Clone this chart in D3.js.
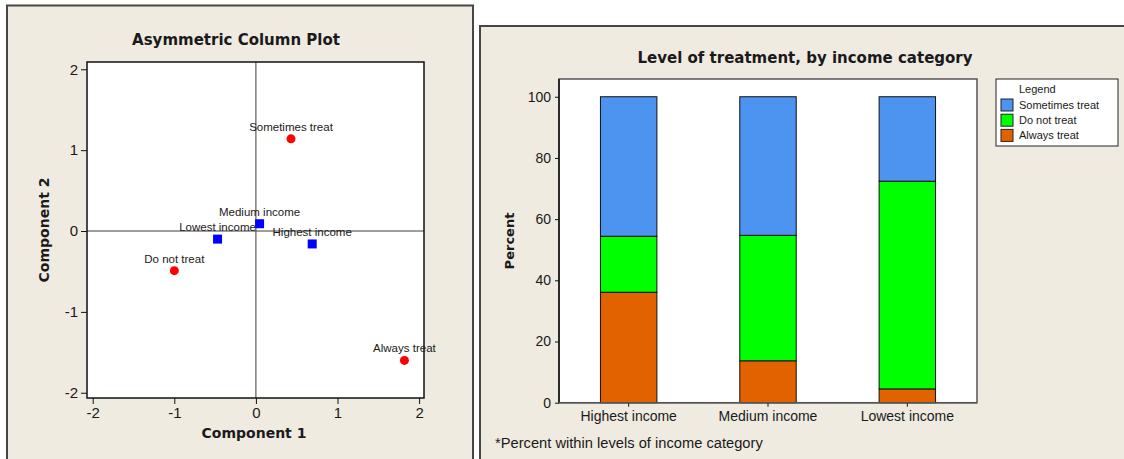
<!DOCTYPE html>
<html>
<head>
<meta charset="utf-8">
<script src="https://cdn.jsdelivr.net/npm/d3@7"></script>
<style>
  html, body { margin: 0; padding: 0; background: #ffffff; }
  svg { display: block; }
  text { fill: #1a1a1a; }
</style>
</head>
<body>
<svg id="chart" width="1124" height="459"></svg>
<script>
// ---- Correspondence analysis: column (income) and row (treatment) coordinates ----
const rowNames = ["Sometimes treat", "Do not treat", "Always treat"];
const rowComp1 = [0.43, -1.00, 1.82];
const rowComp2 = [1.14, -0.49, -1.60];

const colNames = ["Medium income", "Lowest income", "Highest income"];
const colComp1 = [0.045, -0.47, 0.69];
const colComp2 = [0.09, -0.10, -0.16];

const scatterTicks = [-2, -1, 0, 1, 2];

// ---- Stacked percentages by income category ----
const incomeCategories = ["Highest income", "Medium income", "Lowest income"];
const alwaysTreat    = [36.1, 13.7, 4.5];
const doNotTreat     = [18.3, 41.0, 67.9];
const sometimesTreat = [45.6, 45.3, 27.6];
const seriesNames = ["Always treat", "Do not treat", "Sometimes treat"];
const percentTicks = [0, 20, 40, 60, 80, 100];

const BG = "#efebe1";
const svg = d3.select("#chart");
const FONT = "Liberation Sans, Arial, sans-serif";
const BOLD = "DejaVu Sans, Verdana, sans-serif";

// ================= Left panel: scatter =================
svg.append("rect").attr("x", 7).attr("y", 5.5).attr("width", 466).attr("height", 470)
  .attr("fill", BG).attr("stroke", "#464646").attr("stroke-width", 2);

const L = { left: 87, right: 424, top: 62, bottom: 398 };
const x1 = d3.scaleLinear().domain([-2.07, 2.06]).range([L.left, L.right]);
const y1 = d3.scaleLinear().domain([-2.065, 2.09]).range([L.bottom, L.top]);

const gL = svg.append("g");
gL.append("rect").attr("x", L.left).attr("y", L.top)
  .attr("width", L.right - L.left).attr("height", L.bottom - L.top)
  .attr("fill", "#ffffff");

// reference lines through the origin
gL.append("line").attr("x1", x1(0)).attr("x2", x1(0)).attr("y1", L.top).attr("y2", L.bottom)
  .attr("stroke", "#3c3c3c").attr("stroke-width", 1);
gL.append("line").attr("x1", L.left).attr("x2", L.right).attr("y1", y1(0)).attr("y2", y1(0))
  .attr("stroke", "#3c3c3c").attr("stroke-width", 1);

gL.append("rect").attr("x", L.left).attr("y", L.top)
  .attr("width", L.right - L.left).attr("height", L.bottom - L.top)
  .attr("fill", "none").attr("stroke", "#111").attr("stroke-width", 1.5);

const xAxis1 = gL.append("g").attr("transform", `translate(0,${L.bottom})`)
  .call(d3.axisBottom(x1).tickValues(scatterTicks).tickSize(6).tickPadding(3).tickFormat(d3.format("d")));
const yAxis1 = gL.append("g").attr("transform", `translate(${L.left},0)`)
  .call(d3.axisLeft(y1).tickValues(scatterTicks).tickSize(6).tickPadding(3).tickFormat(d3.format("d")));
[xAxis1, yAxis1].forEach(a => {
  a.select(".domain").remove();
  a.selectAll(".tick line").attr("stroke", "#111");
  a.selectAll(".tick text").attr("font-family", FONT).attr("font-size", 15).attr("fill", "#1a1a1a")
    .text(d => d < 0 ? "-" + Math.abs(d) : d);
});

// row points (red circles)
rowNames.forEach((name, i) => {
  gL.append("circle").attr("cx", x1(rowComp1[i])).attr("cy", y1(rowComp2[i])).attr("r", 4.5)
    .attr("fill", "#ff0000");
});
// column points (blue squares)
colNames.forEach((name, i) => {
  gL.append("rect").attr("x", x1(colComp1[i]) - 4.5).attr("y", y1(colComp2[i]) - 4.5)
    .attr("width", 9).attr("height", 9).attr("fill", "#0000ff");
});
// point labels
const labelNames = rowNames.concat(colNames);
const labelX = rowComp1.concat(colComp1);
const labelY = rowComp2.concat(colComp2);
labelNames.forEach((name, i) => {
  gL.append("text").attr("x", x1(labelX[i])).attr("y", y1(labelY[i]) - 8)
    .attr("text-anchor", "middle").attr("font-family", FONT).attr("font-size", 11.5)
    .attr("fill", "#222").text(name);
});

svg.append("text").attr("x", 236).attr("y", 44.5).attr("text-anchor", "middle")
  .attr("font-family", BOLD).attr("font-weight", "bold").attr("font-size", 15).text("Asymmetric Column Plot");
svg.append("text").attr("x", 254).attr("y", 438).attr("text-anchor", "middle")
  .attr("font-family", BOLD).attr("font-weight", "bold").attr("font-size", 14).text("Component 1");
svg.append("text").attr("transform", "translate(49,230) rotate(-90)").attr("text-anchor", "middle")
  .attr("font-family", BOLD).attr("font-weight", "bold").attr("font-size", 14).text("Component 2");

// ================= Right panel: stacked bars =================
svg.append("rect").attr("x", 480).attr("y", 26).attr("width", 660).attr("height", 450)
  .attr("fill", BG).attr("stroke", "#464646").attr("stroke-width", 2);

const R = { left: 559, right: 977, top: 79, bottom: 402.7 };
const x2 = d3.scaleBand().domain(incomeCategories).range([R.left, R.right]).padding(0);
const y2 = d3.scaleLinear().domain([0, 105.8]).range([R.bottom, R.top]);
const barW = x2.bandwidth() * 0.405;

const gR = svg.append("g");
gR.append("rect").attr("x", R.left).attr("y", R.top)
  .attr("width", R.right - R.left).attr("height", R.bottom - R.top)
  .attr("fill", "#ffffff").attr("stroke", "#555").attr("stroke-width", 1.5);

const table = incomeCategories.map((c, i) => ({
  category: c,
  "Always treat": alwaysTreat[i],
  "Do not treat": doNotTreat[i],
  "Sometimes treat": sometimesTreat[i]
}));
const stack = d3.stack().keys(seriesNames)(table);
const colour = d3.scaleOrdinal().domain(seriesNames).range(["#e36200", "#00ff00", "#4d94f0"]);

stack.forEach(layer => {
  gR.append("g").selectAll("rect").data(layer).join("rect")
    .attr("x", d => x2(d.data.category) + (x2.bandwidth() - barW) / 2)
    .attr("width", barW)
    .attr("y", d => y2(d[1]))
    .attr("height", d => y2(d[0]) - y2(d[1]))
    .attr("fill", colour(layer.key))
    .attr("stroke", "#111").attr("stroke-width", 1);
});

const yAxis2 = gR.append("g").attr("transform", `translate(${R.left},0)`)
  .call(d3.axisLeft(y2).tickValues(percentTicks).tickSize(4).tickPadding(4));
const xAxis2 = gR.append("g").attr("transform", `translate(0,${R.bottom})`)
  .call(d3.axisBottom(x2).tickSize(4).tickPadding(4));
[yAxis2, xAxis2].forEach(a => {
  a.select(".domain").remove();
  a.selectAll(".tick line").attr("stroke", "#111");
  a.selectAll(".tick text").attr("font-family", FONT).attr("font-size", 14).attr("fill", "#1a1a1a");
});
gR.append("line").attr("x1", R.left).attr("x2", R.left).attr("y1", R.top).attr("y2", R.bottom)
  .attr("stroke", "#111").attr("stroke-width", 1.5);
gR.append("line").attr("x1", R.left).attr("x2", R.right).attr("y1", R.bottom).attr("y2", R.bottom)
  .attr("stroke", "#555").attr("stroke-width", 1.5);

svg.append("text").attr("x", 805).attr("y", 62.5).attr("text-anchor", "middle")
  .attr("font-family", BOLD).attr("font-weight", "bold").attr("font-size", 15)
  .text("Level of treatment, by income category");
svg.append("text").attr("transform", "translate(514,241) rotate(-90)").attr("text-anchor", "middle")
  .attr("font-family", BOLD).attr("font-weight", "bold").attr("font-size", 13).text("Percent");
svg.append("text").attr("x", 495).attr("y", 448).attr("font-family", FONT).attr("font-size", 14.7)
  .text("*Percent within levels of income category");

// legend
const lg = svg.append("g");
lg.append("rect").attr("x", 996).attr("y", 79).attr("width", 122).attr("height", 67)
  .attr("fill", "#ffffff").attr("stroke", "#222").attr("stroke-width", 1);
lg.append("text").attr("x", 1019).attr("y", 93).attr("font-family", FONT).attr("font-size", 11).text("Legend");
const legendOrder = ["Sometimes treat", "Do not treat", "Always treat"];
legendOrder.forEach((k, i) => {
  const cy = 105 + i * 15.2;
  lg.append("rect").attr("x", 1001).attr("y", cy - 6).attr("width", 12).attr("height", 12)
    .attr("fill", colour(k)).attr("stroke", "#222").attr("stroke-width", 1);
  lg.append("text").attr("x", 1019).attr("y", cy + 4).attr("font-family", FONT).attr("font-size", 11).text(k);
});
</script>
</body>
</html>
